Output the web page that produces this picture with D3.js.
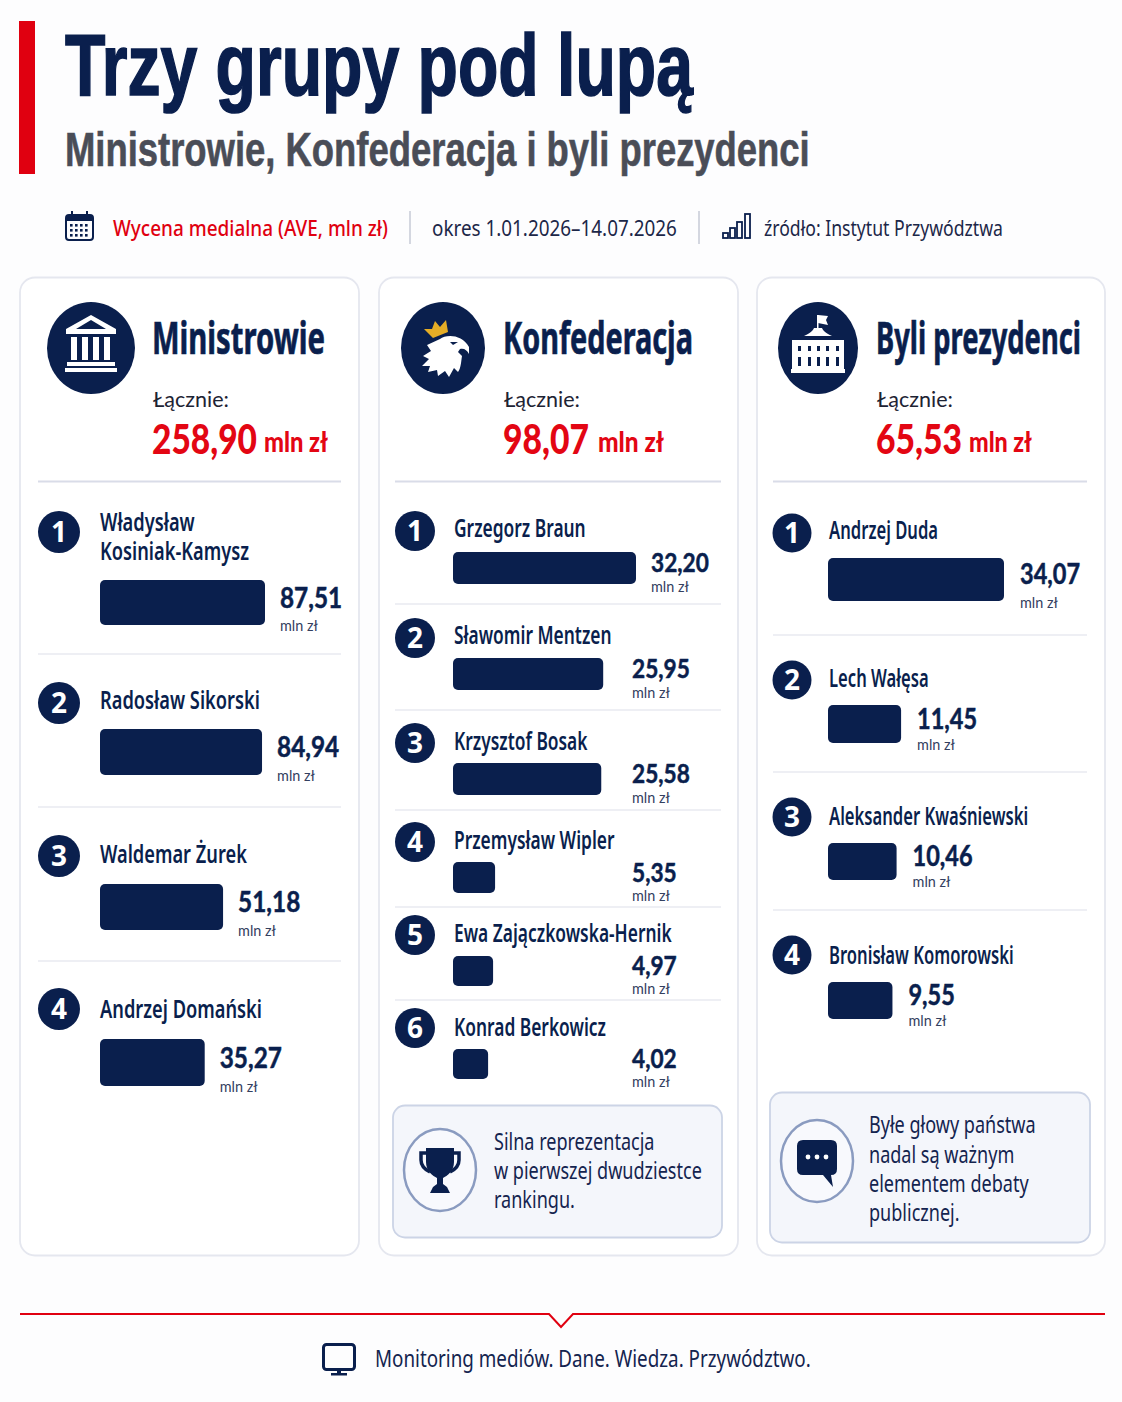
<!DOCTYPE html>
<html lang="pl">
<head>
<meta charset="utf-8">
<title>Trzy grupy pod lupą</title>
<script src="https://cdn.jsdelivr.net/npm/d3@7"></script>
<style>
  html, body { margin: 0; padding: 0; background: #fdfdfe; }
  svg { display: block; }
</style>
</head>
<body>
<div id="chart"></div>
<script>
// dane
const ministrowieNames = [["Władysław", "Kosiniak-Kamysz"], ["Radosław Sikorski"], ["Waldemar Żurek"], ["Andrzej Domański"]];
const ministrowieValues = [87.51, 84.94, 51.18, 35.27];
const konfederacjaNames = [["Grzegorz Braun"], ["Sławomir Mentzen"], ["Krzysztof Bosak"], ["Przemysław Wipler"], ["Ewa Zajączkowska-Hernik"], ["Konrad Berkowicz"]];
const konfederacjaValues = [32.20, 25.95, 25.58, 5.35, 4.97, 4.02];
const prezydenciNames = [["Andrzej Duda"], ["Lech Wałęsa"], ["Aleksander Kwaśniewski"], ["Bronisław Komorowski"]];
const prezydenciValues = [34.07, 11.45, 10.46, 9.55];
const groupTitles = ["Ministrowie", "Konfederacja", "Byli prezydenci"];
const groupTotals = [258.90, 98.07, 65.53];
const konfederacjaNote = ["Silna reprezentacja", "w pierwszej dwudziestce", "rankingu."];
const prezydenciNote = ["Byłe głowy państwa", "nadal są ważnym", "elementem debaty", "publicznej."];

const navy = "#0a1f4d";
const red = "#e30613";
const font = "'Noto Sans', sans-serif";
const headFont = "'Liberation Sans', sans-serif";
const numFont = "Lato, sans-serif";

const fmt = d3.formatLocale({ decimal: ",", thousands: " ", grouping: [3], currency: ["", " zł"] }).format(".2f");

const svg = d3.select("#chart")
    .append("svg")
    .attr("width", 1122)
    .attr("height", 1402)
    .attr("viewBox", "0 0 1122 1402");

svg.append("rect").attr("width", 1122).attr("height", 1402).attr("fill", "#fdfdfe");

// tekst zwężony przez skalę: k albo docelowa szerokość
function label(parent, x, cy, str, o) {
    const t = parent.append("text")
        .attr("font-family", o.family || font)
        .attr("font-size", o.size)
        .attr("font-weight", o.weight || 400)
        .attr("fill", o.fill || navy);
    if (Array.isArray(str)) {
        t.selectAll("tspan")
            .data(str)
            .enter()
            .append("tspan")
            .attr("x", 0)
            .attr("dy", (d, i) => i ? o.lineStep : 0)
            .text((d) => d);
    } else {
        t.text(str);
    }
    if (o.stroke) {
        t.attr("stroke", o.fill || navy).attr("stroke-width", o.stroke);
    }
    const natural = t.node().getComputedTextLength();
    const k = o.width ? o.width / natural : (o.k || 1);
    t.attr("transform", `translate(${x},${cy + o.size * 0.36}) scale(${k},1)`);
}

// nagłówek
svg.append("rect").attr("x", 19).attr("y", 21).attr("width", 16).attr("height", 153).attr("fill", "#e00010");
label(svg, 65, 64, "Trzy grupy pod lupą", { size: 87, weight: 700, family: headFont, width: 628, stroke: 1.6 });
label(svg, 65, 149, "Ministrowie, Konfederacja i byli prezydenci", { size: 48, weight: 700, family: headFont, fill: "#4a4d57", width: 745, stroke: 0.6 });

label(svg, 113, 228, "Wycena medialna (AVE, mln zł)", { size: 21, weight: 500, fill: "#e00010", width: 275 });
label(svg, 432, 228, "okres 1.01.2026–14.07.2026", { size: 21, fill: "#1c2748", width: 245 });
label(svg, 764, 228, "źródło: Instytut Przywództwa", { size: 21, fill: "#1c2748", width: 239 });

svg.selectAll("line.sep")
    .data([410, 699])
    .enter()
    .append("line")
    .attr("class", "sep")
    .attr("x1", (d) => d)
    .attr("x2", (d) => d)
    .attr("y1", 211)
    .attr("y2", 244)
    .attr("stroke", "#c6cad6")
    .attr("stroke-width", 1.5);

// ikona kalendarza
const cal = svg.append("g").attr("transform", "translate(65,211)");
cal.append("rect").attr("x", 1).attr("y", 4).attr("width", 27).attr("height", 25).attr("rx", 3).attr("fill", "none").attr("stroke", navy).attr("stroke-width", 2);
cal.append("rect").attr("x", 1).attr("y", 4).attr("width", 27).attr("height", 6).attr("fill", navy);
cal.selectAll("line").data([7, 22]).enter().append("line").attr("x1", (d) => d).attr("x2", (d) => d).attr("y1", 0).attr("y2", 6).attr("stroke", navy).attr("stroke-width", 2);
cal.selectAll("rect.dot")
    .data(d3.cross([5, 10, 15, 20], [13, 18, 23]))
    .enter()
    .append("rect")
    .attr("class", "dot")
    .attr("x", (d) => d[0])
    .attr("y", (d) => d[1])
    .attr("width", 2.6)
    .attr("height", 2.6)
    .attr("fill", navy);

// ikona słupków
svg.append("g").attr("transform", "translate(723,213)")
    .selectAll("rect")
    .data([[0, 20], [7, 15], [14, 9], [22, 1]])
    .enter()
    .append("rect")
    .attr("x", (d) => d[0])
    .attr("y", (d) => d[1])
    .attr("width", 5)
    .attr("height", (d) => 25 - d[1])
    .attr("fill", "none")
    .attr("stroke", navy)
    .attr("stroke-width", 1.8);

// układ kolumn
const panels = [
    {
        x: 20, w: 339, iconX: 91, iconRx: 44, textX: 152, ruleX: [38, 341],
        titleW: 173, totalW: 105, unitW: 64, unitGap: 7,
        names: ministrowieNames, values: ministrowieValues,
        rankX: 59, rankR: 21, nameX: 100, barX: 100, barRange: [64, 165],
        nameK: 0.73, valueSize: 29, valueGap: 15, labelMin: 0, valueOff: 0.39, subOff: 0,
        rankY: [532, 703, 856, 1009],
        nameY: [522, 700, 854, 1009],
        barY: [580, 729, 884, 1039],
        barH: [45, 46, 46, 47],
        rules: [654, 807, 961]
    },
    {
        x: 379, w: 359, iconX: 443, iconRx: 42, textX: 503, ruleX: [395, 721],
        titleW: 190, totalW: 86, unitW: 66, unitGap: 9,
        names: konfederacjaNames, values: konfederacjaValues,
        rankX: 415, rankR: 20, nameX: 454, barX: 453, barRange: [14, 183],
        nameK: 0.695, valueSize: 27, valueGap: 15, labelMin: 632, valueOff: 0.32, subOff: 2,
        rankY: [531, 638, 743, 842, 935, 1028],
        nameY: [528, 635, 741, 840, 933, 1027],
        barY: [552, 658, 763, 862, 956, 1049],
        barH: [32, 32, 32, 31, 30, 30],
        rules: [604, 710, 810, 907, 1000]
    },
    {
        x: 757, w: 348, iconX: 818, iconRx: 40, textX: 876, ruleX: [773, 1087],
        titleW: 205, totalW: 86, unitW: 63, unitGap: 7,
        names: prezydenciNames, values: prezydenciValues,
        rankX: 792, rankR: 19.5, nameX: 829, barX: 828, barRange: [21, 176],
        nameK: 0.665, valueSize: 28, valueGap: 16, labelMin: 0, valueOff: 0.36, subOff: 1,
        rankY: [533, 680, 817, 955],
        nameY: [530, 678, 816, 955],
        barY: [558, 705, 843, 982],
        barH: [43, 38, 37, 37],
        rules: [635, 772, 910]
    }
];

panels.forEach(function (p, i) {
    const g = svg.append("g");

    g.append("rect")
        .attr("x", p.x)
        .attr("y", 277.5)
        .attr("width", p.w)
        .attr("height", 978)
        .attr("rx", 15)
        .attr("fill", "#ffffff")
        .attr("stroke", "#e5e7ef")
        .attr("stroke-width", 1.8);

    g.append("ellipse")
        .attr("cx", p.iconX)
        .attr("cy", 348)
        .attr("rx", p.iconRx)
        .attr("ry", 46)
        .attr("fill", navy);

    label(g, p.textX, 338, groupTitles[i], { size: 44, weight: 700, width: p.titleW, stroke: 0.7 });
    label(g, p.textX + 1, 399, "Łącznie:", { size: 22, family: numFont, fill: "#1d2333", width: 76 });
    label(g, p.textX, 439, fmt(groupTotals[i]), { size: 41, weight: 900, family: numFont, fill: red, width: p.totalW });
    label(g, p.textX + p.totalW + p.unitGap, 442, "mln zł", { size: 29, weight: 900, family: numFont, fill: red, width: p.unitW });

    g.append("line")
        .attr("x1", p.ruleX[0])
        .attr("x2", p.ruleX[1])
        .attr("y1", 481.5)
        .attr("y2", 481.5)
        .attr("stroke", "#d9dce8")
        .attr("stroke-width", 2);

    g.selectAll("line.row")
        .data(p.rules)
        .enter()
        .append("line")
        .attr("class", "row")
        .attr("x1", p.ruleX[0])
        .attr("x2", p.ruleX[1])
        .attr("y1", (d) => d)
        .attr("y2", (d) => d)
        .attr("stroke", "#e8eaf1")
        .attr("stroke-width", 1.5);

    // skala dla każdej grupy osobno, jak w oryginale
    const barWidth = d3.scaleLinear()
        .domain([0, d3.max(p.values)])
        .range(p.barRange);

    g.selectAll("rect.bar")
        .data(p.values)
        .enter()
        .append("rect")
        .attr("class", "bar")
        .attr("x", p.barX)
        .attr("y", (d, j) => p.barY[j])
        .attr("width", (d) => barWidth(d))
        .attr("height", (d, j) => p.barH[j])
        .attr("rx", 5)
        .attr("fill", navy);

    p.values.forEach(function (v, j) {
        g.append("circle")
            .attr("cx", p.rankX)
            .attr("cy", p.rankY[j])
            .attr("r", p.rankR)
            .attr("fill", navy);
        g.append("text")
            .attr("x", p.rankX)
            .attr("y", p.rankY[j] + 10)
            .attr("text-anchor", "middle")
            .attr("font-family", font)
            .attr("font-size", 28)
            .attr("font-weight", 700)
            .attr("fill", "#ffffff")
            .text(j + 1);

        label(g, p.nameX, p.nameY[j], p.names[j], { size: 25, weight: 600, k: p.nameK, lineStep: 29 });

        const end = p.barX + barWidth(v);
        const lx = Math.max(end + p.valueGap, p.labelMin);
        const h = p.barH[j];
        label(g, lx, p.barY[j] + h * p.valueOff, fmt(v), { size: p.valueSize, weight: 700, family: numFont, k: 0.84, stroke: 0.5 });
        label(g, lx, p.barY[j] + h + p.subOff, "mln zł", { size: 15.5, family: numFont, fill: "#33405f", k: 0.93 });
    });
});

// ikony grup
const white = "#ffffff";

const temple = svg.append("g").attr("transform", "translate(91,348)").attr("fill", white);
temple.append("path").attr("d", "M0,-33 L25,-19 L25,-14 L-25,-14 L-25,-19 Z M0,-28 L-15,-19 L15,-19 Z").attr("fill-rule", "evenodd");
temple.selectAll("rect.col")
    .data([-20, -9, 2, 13])
    .enter()
    .append("rect")
    .attr("class", "col")
    .attr("x", (d) => d)
    .attr("y", -11)
    .attr("width", 6)
    .attr("height", 23);
temple.append("rect").attr("x", -24).attr("y", 14).attr("width", 48).attr("height", 4);
temple.append("rect").attr("x", -26).attr("y", 20).attr("width", 52).attr("height", 4);

const eagle = svg.append("g").attr("transform", "translate(443,348)");
eagle.append("path")
    .attr("fill", white)
    .attr("d", "M-16,-3 L-3,-9 C3,-14 19,-14 26,-1 L26,6 C24,2 21,0 17,1 L15,4 L19,8 C18,14 18,20 15,24 L11,20 L6,29 L2,23 L-5,28 L-6,22 L-15,24 L-13,18 L-21,18 L-14,11 L-20,8 L-12,3 Z");
eagle.append("path")
    .attr("fill", navy)
    .attr("d", "M7,-6 L15,-6 L10,-3 Z");
eagle.append("path")
    .attr("fill", "#e5ad26")
    .attr("d", "M-19,-19 L-11,-19 L-8,-27 L-3,-21 L3,-28 L5,-16 L-10,-10 Z");

const capitol = svg.append("g").attr("transform", "translate(818,348)").attr("fill", white);
capitol.append("rect").attr("x", -1).attr("y", -33).attr("width", 1.5).attr("height", 16);
capitol.append("path").attr("d", "M0,-33 L10,-32 L8,-28 L10,-23 L0,-25 Z");
capitol.append("path").attr("d", "M-14,-12 C-8,-15 -5,-17 -4,-20 L4,-20 C5,-17 8,-15 14,-12 Z");
capitol.append("path").attr("d", "M-26,-8 L26,-8 L26,22 L-26,22 Z");
capitol.append("rect").attr("x", -27).attr("y", 21).attr("width", 54).attr("height", 4);
capitol.selectAll("rect.win")
    .data(d3.cross([-20, -10, -1, 8, 18], [-2, 9]))
    .enter()
    .append("rect")
    .attr("class", "win")
    .attr("x", (d) => d[0])
    .attr("y", (d) => d[1])
    .attr("width", 3)
    .attr("height", (d) => d[1] < 0 ? 5 : 9)
    .attr("fill", navy);

// ramki z komentarzem
function noteBox(x, y, w, h, cx, cy, lines, textX, firstY, step) {
    const g = svg.append("g");
    g.append("rect")
        .attr("x", x)
        .attr("y", y)
        .attr("width", w)
        .attr("height", h)
        .attr("rx", 12)
        .attr("fill", "#f4f6fb")
        .attr("stroke", "#ccd4e6")
        .attr("stroke-width", 1.8);
    g.append("ellipse")
        .attr("cx", cx)
        .attr("cy", cy)
        .attr("rx", 36)
        .attr("ry", 41)
        .attr("fill", "#f8f9fd")
        .attr("stroke", "#8a9bc0")
        .attr("stroke-width", 2.5);
    lines.forEach(function (line, i) {
        label(g, textX, firstY + i * step, line, { size: 23, fill: "#14244f", k: 0.785 });
    });
}

noteBox(393, 1105.5, 329, 132, 440, 1170, konfederacjaNote, 494, 1142, 29);
noteBox(770, 1092.5, 320, 150, 817, 1161, prezydenciNote, 869, 1125, 29.3);

// puchar
const cup = svg.append("g").attr("transform", "translate(440,1170)");
cup.append("path").attr("fill", navy)
    .attr("d", "M-14,-22 L14,-22 L14,-8 C14,1 7,6 3,8 L3,14 L7,17 L10,23 L-10,23 L-7,17 L-3,14 L-3,8 C-7,6 -14,1 -14,-8 Z");
cup.append("path").attr("fill", "none").attr("stroke", navy).attr("stroke-width", 3.5)
    .attr("d", "M-14,-17 L-19,-17 L-19,-10 C-19,-4 -14,0 -10,2 M14,-17 L19,-17 L19,-10 C19,-4 14,0 10,2");

// dymek
const bubble = svg.append("g").attr("transform", "translate(817,1161)");
bubble.append("path").attr("fill", navy)
    .attr("d", "M-14,-21 L14,-21 Q20,-21 20,-15 L20,8 Q20,14 14,14 L14,14 L16,26 L6,14 L-14,14 Q-20,14 -20,8 L-20,-15 Q-20,-21 -14,-21 Z");
bubble.selectAll("circle")
    .data([-9, 0, 9])
    .enter()
    .append("circle")
    .attr("cx", (d) => d)
    .attr("cy", -4)
    .attr("r", 2.4)
    .attr("fill", white);

// stopka
svg.append("path")
    .attr("d", "M20,1314 L549,1314 L561,1327 L573,1314 L1105,1314")
    .attr("fill", "none")
    .attr("stroke", "#e00010")
    .attr("stroke-width", 2);

const monitor = svg.append("g").attr("transform", "translate(322,1343)");
monitor.append("rect").attr("x", 1.5).attr("y", 1.5).attr("width", 31).attr("height", 25).attr("rx", 3).attr("fill", "none").attr("stroke", navy).attr("stroke-width", 3);
monitor.append("rect").attr("x", 15).attr("y", 27).attr("width", 4).attr("height", 4).attr("fill", navy);
monitor.append("rect").attr("x", 9).attr("y", 30).attr("width", 16).attr("height", 2.5).attr("fill", navy);

label(svg, 375, 1359, "Monitoring mediów. Dane. Wiedza. Przywództwo.", { size: 23, fill: "#14244f", width: 436 });
</script>
</body>
</html>
